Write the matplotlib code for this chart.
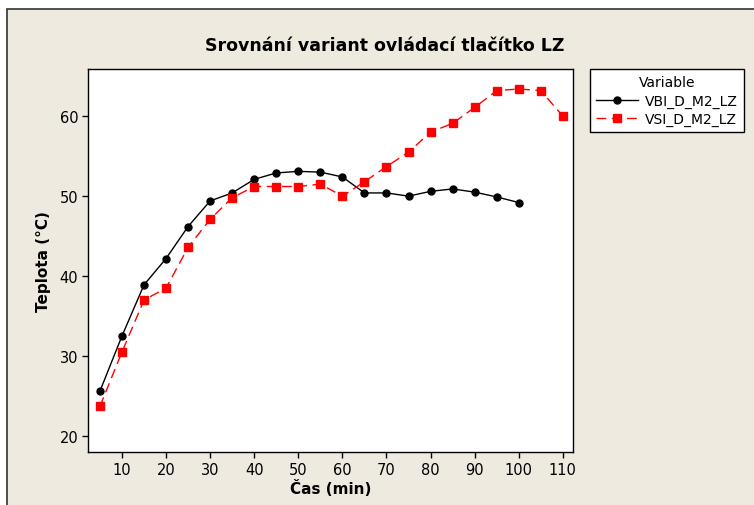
import matplotlib

matplotlib.use("Agg")
import matplotlib.pyplot as plt
from matplotlib.patches import Rectangle

# Measured temperatures over time for the two button variants
time_vbi = [5, 10, 15, 20, 25, 30, 35, 40, 45, 50,
            55, 60, 65, 70, 75, 80, 85, 90, 95, 100]
temp_vbi = [25.6, 32.5, 38.9, 42.2, 46.2, 49.4, 50.4, 52.1, 52.9, 53.1,
            53.0, 52.4, 50.4, 50.4, 50.0, 50.6, 50.9, 50.5, 49.9, 49.2]

time_vsi = [5, 10, 15, 20, 25, 30, 35, 40, 45, 50, 55,
            60, 65, 70, 75, 80, 85, 90, 95, 100, 105, 110]
temp_vsi = [23.7, 30.5, 37.0, 38.5, 43.6, 47.1, 49.8, 51.2, 51.2, 51.2, 51.5,
            50.0, 51.8, 53.7, 55.5, 58.0, 59.1, 61.1, 63.2, 63.4, 63.2, 60.0]

x_ticks = [10, 20, 30, 40, 50, 60, 70, 80, 90, 100, 110]
y_ticks = [20, 30, 40, 50, 60]

BG = "#EEEAE0"

fig = plt.figure(figsize=(7.54, 5.06), dpi=100)
fig.patch.set_facecolor("white")

# beige panel behind everything; only its top and left edges fall inside
fig.patches.append(Rectangle((7 / 754, -1), 2.0, 2 - 10 / 506,
                             transform=fig.transFigure, facecolor=BG,
                             edgecolor="#333333", linewidth=1.2, zorder=-5))

ax = fig.add_axes([88 / 754, 53 / 506, 485 / 754, 383 / 506])
ax.set_facecolor("white")

ax.plot(time_vbi, temp_vbi, "-", color="black", linewidth=1.0,
        marker="o", markersize=5, label="VBI_D_M2_LZ")
ax.plot(time_vsi, temp_vsi, color="#FF0000", linewidth=1.0,
        linestyle=(0, (7, 4)), marker="s", markersize=5.5,
        label="VSI_D_M2_LZ")

ax.set_xlim(2.3, 112.3)
ax.set_ylim(18, 65.9)
ax.set_xticks(x_ticks)
ax.set_yticks(y_ticks)
ax.tick_params(direction="out", length=4, width=1, labelsize=10.5,
               colors="black", pad=3)
for side in ax.spines.values():
    side.set_linewidth(1.0)
    side.set_color("black")

ax.set_xlabel("Čas (min)", fontsize=11, fontweight="bold", labelpad=2)
ax.set_ylabel("Teplota (°C)", fontsize=11, fontweight="bold", labelpad=6)
fig.text(385 / 754, 1 - 46 / 506, "Srovnání variant ovládací tlačítko LZ",
         ha="center", va="center", fontsize=12.5, fontweight="bold")

leg = fig.legend(loc="upper left", bbox_to_anchor=(590 / 754, 1 - 70 / 506),
                 title="Variable", fontsize=10, title_fontsize=10,
                 frameon=True, fancybox=False, edgecolor="black",
                 framealpha=1, handlelength=3.0, handletextpad=0.5,
                 borderpad=0.45, labelspacing=0.3, borderaxespad=0)
leg.get_frame().set_linewidth(1.0)

fig.savefig("out.png", dpi=100, facecolor=fig.get_facecolor())
